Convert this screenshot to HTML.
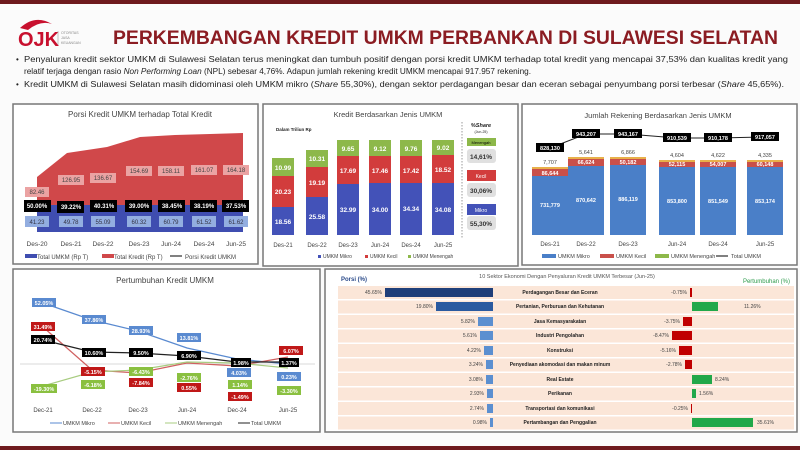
<!DOCTYPE html>
<html><head><meta charset="utf-8"><style>
html,body{margin:0;padding:0;background:#fff;}
svg{display:block;font-family:"Liberation Sans",sans-serif;}
</style></head><body>
<svg width="800" height="450" viewBox="0 0 800 450" xmlns="http://www.w3.org/2000/svg">
<rect width="800" height="450" fill="#fbfbfb"/>
<rect x="0" y="0" width="800" height="4" fill="#6e1a1e"/>
<rect x="0" y="446" width="800" height="4" fill="#6e1a1e"/>
<path d="M20 28 Q35 14 52 24 Q40 20 28 30 Z" fill="#c8102e"/>
<text x="18" y="46" font-size="20" font-weight="bold" fill="#c8102e">OJK</text>
<line x1="58" y1="31" x2="58" y2="45" stroke="#999" stroke-width="0.6"/>
<text x="61" y="34" font-size="3.5" fill="#888">OTORITAS</text>
<text x="61" y="39" font-size="3.5" fill="#888">JASA</text>
<text x="61" y="44" font-size="3.5" fill="#888">KEUANGAN</text>
<text x="113" y="44" font-size="19" font-weight="bold" fill="#8b1c22" textLength="665" lengthAdjust="spacingAndGlyphs">PERKEMBANGAN KREDIT UMKM PERBANKAN DI SULAWESI SELATAN</text>
<g font-size="8" fill="#222">
<text x="16" y="62">•</text>
<text x="24" y="62" textLength="764" lengthAdjust="spacingAndGlyphs">Penyaluran kredit sektor UMKM di Sulawesi Selatan terus meningkat dan tumbuh positif dengan porsi kredit UMKM terhadap total kredit yang mencapai 37,53% dan kualitas kredit yang</text>
<text x="24" y="74" textLength="507" lengthAdjust="spacingAndGlyphs">relatif terjaga dengan rasio <tspan font-style="italic">Non Performing Loan</tspan> (NPL) sebesar 4,76%. Adapun jumlah rekening kredit UMKM mencapai 917.957 rekening.</text>
<text x="16" y="87">•</text>
<text x="24" y="87" textLength="760" lengthAdjust="spacingAndGlyphs">Kredit UMKM di Sulawesi Selatan masih didominasi oleh UMKM mikro (<tspan font-style="italic">Share</tspan> 55,30%), dengan sektor perdagangan besar dan eceran sebagai penyumbang porsi terbesar (<tspan font-style="italic">Share</tspan> 45,65%).</text>
</g>

<rect x="13" y="104" width="245" height="160" fill="#fff" stroke="#777" stroke-width="1.5"/>
<text x="140" y="117" font-size="8" fill="#444" text-anchor="middle">Porsi Kredit UMKM terhadap Total Kredit</text>
<polygon points="37,177 67,153 107,147 140,137 175,135 210,134 243,133 243,232 37,232" fill="#d0484a"/>
<rect x="37" y="205" width="206" height="27" fill="#3f4db0"/>
<g font-size="6" text-anchor="middle" fill="#444">
<rect x="25" y="187" width="24" height="10" fill="#eba3a3"/><text x="37" y="194">82.46</text>
<rect x="58" y="175" width="26" height="10" fill="#eba3a3"/><text x="71" y="182">126.95</text>
<rect x="90" y="173" width="26" height="10" fill="#eba3a3"/><text x="103" y="180">136.67</text>
<rect x="126" y="166" width="26" height="10" fill="#eba3a3"/><text x="139" y="173">154.69</text>
<rect x="158" y="166" width="26" height="10" fill="#eba3a3"/><text x="171" y="173">158.11</text>
<rect x="191" y="165" width="26" height="10" fill="#eba3a3"/><text x="204" y="172">161.07</text>
<rect x="223" y="165" width="26" height="10" fill="#eba3a3"/><text x="236" y="172">164.18</text>
</g>
<g font-size="6" font-weight="bold" text-anchor="middle" fill="#fff">
<rect x="24" y="200" width="27" height="12" fill="#000"/><text x="37" y="208">50.00%</text>
<rect x="57" y="201" width="27" height="12" fill="#000"/><text x="71" y="209">39.22%</text>
<rect x="90" y="200" width="27" height="12" fill="#000"/><text x="104" y="208">40.31%</text>
<rect x="125" y="200" width="27" height="12" fill="#000"/><text x="139" y="208">39.00%</text>
<rect x="158" y="200" width="27" height="12" fill="#000"/><text x="172" y="208">38.45%</text>
<rect x="190" y="200" width="27" height="12" fill="#000"/><text x="204" y="208">38.19%</text>
<rect x="222" y="200" width="27" height="12" fill="#000"/><text x="236" y="208">37.53%</text>
</g>
<g font-size="6" text-anchor="middle" fill="#334">
<rect x="25" y="216" width="24" height="11" fill="#93aee0"/><text x="37" y="224">41.23</text>
<rect x="59" y="216" width="24" height="11" fill="#93aee0"/><text x="71" y="224">49.78</text>
<rect x="91" y="216" width="24" height="11" fill="#93aee0"/><text x="103" y="224">55.09</text>
<rect x="127" y="216" width="24" height="11" fill="#93aee0"/><text x="139" y="224">60.32</text>
<rect x="159" y="216" width="24" height="11" fill="#93aee0"/><text x="171" y="224">60.79</text>
<rect x="192" y="216" width="24" height="11" fill="#93aee0"/><text x="204" y="224">61.52</text>
<rect x="224" y="216" width="24" height="11" fill="#93aee0"/><text x="236" y="224">61.62</text>
</g>
<g font-size="6.5" text-anchor="middle" fill="#444">
<text x="37" y="246">Des-20</text><text x="71" y="246">Des-21</text><text x="103" y="246">Des-22</text><text x="139" y="246">Des-23</text><text x="171" y="246">Jun-24</text><text x="204" y="246">Des-24</text><text x="236" y="246">Jun-25</text>
</g>
<g font-size="6" fill="#444">
<rect x="25" y="254" width="12" height="4" fill="#3f4db0"/><text x="37" y="259">Total UMKM (Rp T)</text>
<rect x="102" y="254" width="12" height="4" fill="#d0484a"/><text x="114" y="259">Total Kredit (Rp T)</text>
<line x1="170" y1="256" x2="182" y2="256" stroke="#000"/><text x="185" y="259">Porsi Kredit UMKM</text>
</g>

<rect x="263" y="104" width="255" height="162" fill="#fff" stroke="#777" stroke-width="1.5"/>
<text x="388" y="117" font-size="7.5" fill="#444" text-anchor="middle">Kredit Berdasarkan Jenis UMKM</text>
<text x="276" y="131" font-size="4.5" font-weight="bold" fill="#222">Dalam Triliun Rp</text>
<g font-size="6.5" font-weight="bold" fill="#fff" text-anchor="middle">
<rect x="272" y="158" width="22" height="18" fill="#8db84a"/><rect x="272" y="176" width="22" height="31" fill="#d23c3c"/><rect x="272" y="207" width="22" height="28" fill="#4352b8"/>
<text x="283" y="170">10.99</text><text x="283" y="194">20.23</text><text x="283" y="224">18.56</text>
<rect x="306" y="150" width="22" height="17" fill="#8db84a"/><rect x="306" y="167" width="22" height="30" fill="#d23c3c"/><rect x="306" y="197" width="22" height="38" fill="#4352b8"/>
<text x="317" y="161">10.31</text><text x="317" y="185">19.19</text><text x="317" y="219">25.58</text>
<rect x="337" y="140" width="22" height="16" fill="#8db84a"/><rect x="337" y="156" width="22" height="28" fill="#d23c3c"/><rect x="337" y="184" width="22" height="51" fill="#4352b8"/>
<text x="348" y="151">9.65</text><text x="348" y="173">17.69</text><text x="348" y="212">32.99</text>
<rect x="369" y="140" width="22" height="16" fill="#8db84a"/><rect x="369" y="156" width="22" height="27" fill="#d23c3c"/><rect x="369" y="183" width="22" height="52" fill="#4352b8"/>
<text x="380" y="151">9.12</text><text x="380" y="173">17.46</text><text x="380" y="212">34.00</text>
<rect x="400" y="140" width="22" height="16" fill="#8db84a"/><rect x="400" y="156" width="22" height="27" fill="#d23c3c"/><rect x="400" y="183" width="22" height="52" fill="#4352b8"/>
<text x="411" y="151">9.76</text><text x="411" y="173">17.42</text><text x="411" y="211">34.34</text>
<rect x="432" y="140" width="22" height="15" fill="#8db84a"/><rect x="432" y="155" width="22" height="28" fill="#d23c3c"/><rect x="432" y="183" width="22" height="52" fill="#4352b8"/>
<text x="443" y="150">9.02</text><text x="443" y="172">18.52</text><text x="443" y="212">34.08</text>
</g>
<line x1="462" y1="122" x2="462" y2="238" stroke="#999" stroke-dasharray="1.5,1.5"/>
<text x="481" y="127" font-size="5.5" font-weight="bold" font-style="italic" fill="#222" text-anchor="middle">%Share</text>
<text x="481" y="133" font-size="3.5" fill="#222" text-anchor="middle">(Jun-25)</text>
<rect x="467" y="138" width="29" height="8" fill="#8db84a"/><text x="481" y="144" font-size="4" fill="#000" text-anchor="middle">Menengah</text>
<rect x="467" y="149" width="29" height="14" rx="3" fill="#e0e0e0"/><text x="481" y="159" font-size="6.5" font-weight="bold" fill="#333" text-anchor="middle">14,61%</text>
<rect x="467" y="170" width="29" height="11" fill="#d23c3c"/><text x="481" y="178" font-size="5" fill="#fff" text-anchor="middle">Kecil</text>
<rect x="467" y="183" width="29" height="14" rx="3" fill="#e0e0e0"/><text x="481" y="193" font-size="6.5" font-weight="bold" fill="#333" text-anchor="middle">30,06%</text>
<rect x="467" y="204" width="29" height="11" fill="#4352b8"/><text x="481" y="212" font-size="5" fill="#fff" text-anchor="middle">Mikro</text>
<rect x="467" y="216" width="29" height="14" rx="3" fill="#e0e0e0"/><text x="481" y="226" font-size="6.5" font-weight="bold" fill="#333" text-anchor="middle">55,30%</text>
<g font-size="6" fill="#444" text-anchor="middle">
<text x="283" y="247">Des-21</text><text x="317" y="247">Des-22</text><text x="348" y="247">Des-23</text><text x="380" y="247">Jun-24</text><text x="411" y="247">Des-24</text><text x="443" y="247">Jun-25</text>
</g>
<g font-size="5" fill="#444">
<rect x="318" y="255" width="3" height="3" fill="#4352b8"/><text x="323" y="258">UMKM Mikro</text>
<rect x="365" y="255" width="3" height="3" fill="#d23c3c"/><text x="370" y="258">UMKM Kecil</text>
<rect x="408" y="255" width="3" height="3" fill="#8db84a"/><text x="413" y="258">UMKM Menengah</text>
</g>

<rect x="522" y="104" width="275" height="161" fill="#fff" stroke="#777" stroke-width="1.5"/>
<text x="658" y="118" font-size="7.5" fill="#444" text-anchor="middle">Jumlah Rekening Berdasarkan Jenis UMKM</text>
<g font-size="5.5" font-weight="bold" fill="#fff" text-anchor="middle">
<rect x="532" y="167" width="36" height="2" fill="#e8b04a"/><rect x="532" y="169" width="36" height="7" fill="#c9504a"/><rect x="532" y="176" width="36" height="59" fill="#4a7fc8"/>
<text x="550" y="175">86,644</text><text x="550" y="207">731,779</text>
<rect x="568" y="157" width="36" height="2" fill="#e8b04a"/><rect x="568" y="159" width="36" height="7" fill="#c9504a"/><rect x="568" y="166" width="36" height="69" fill="#4a7fc8"/>
<text x="586" y="164">66,624</text><text x="586" y="202">870,642</text>
<rect x="610" y="157" width="36" height="2" fill="#e8b04a"/><rect x="610" y="159" width="36" height="6" fill="#c9504a"/><rect x="610" y="165" width="36" height="70" fill="#4a7fc8"/>
<text x="628" y="164">50,182</text><text x="628" y="201">886,119</text>
<rect x="659" y="160" width="36" height="2" fill="#e8b04a"/><rect x="659" y="162" width="36" height="5" fill="#c9504a"/><rect x="659" y="167" width="36" height="68" fill="#4a7fc8"/>
<text x="677" y="166">52,115</text><text x="677" y="203">853,800</text>
<rect x="700" y="160" width="36" height="2" fill="#e8b04a"/><rect x="700" y="162" width="36" height="5" fill="#c9504a"/><rect x="700" y="167" width="36" height="68" fill="#4a7fc8"/>
<text x="718" y="166">54,007</text><text x="718" y="203">851,549</text>
<rect x="747" y="160" width="36" height="2" fill="#e8b04a"/><rect x="747" y="162" width="36" height="5" fill="#c9504a"/><rect x="747" y="167" width="36" height="68" fill="#4a7fc8"/>
<text x="765" y="166">60,148</text><text x="765" y="203">853,174</text>
</g>
<g font-size="5.5" fill="#444" text-anchor="middle">
<text x="550" y="164">7,707</text><text x="586" y="154">5,641</text><text x="628" y="154">6,866</text><text x="677" y="157">4,604</text><text x="718" y="157">4,622</text><text x="765" y="157">4,335</text>
</g>
<polyline points="550,148 586,134 628,134 677,138 718,138 765,137" fill="none" stroke="#222" stroke-width="1"/>
<g font-size="5.5" font-weight="bold" fill="#fff" text-anchor="middle">
<rect x="536" y="143" width="28" height="9" fill="#000"/><text x="550" y="150">828,130</text>
<rect x="572" y="129" width="28" height="9" fill="#000"/><text x="586" y="136">943,207</text>
<rect x="614" y="129" width="28" height="9" fill="#000"/><text x="628" y="136">943,167</text>
<rect x="663" y="133" width="28" height="9" fill="#000"/><text x="677" y="140">910,539</text>
<rect x="704" y="133" width="28" height="9" fill="#000"/><text x="718" y="140">910,178</text>
<rect x="751" y="132" width="28" height="9" fill="#000"/><text x="765" y="139">917,057</text>
</g>
<g font-size="6" fill="#444" text-anchor="middle">
<text x="550" y="246">Des-21</text><text x="586" y="246">Des-22</text><text x="628" y="246">Des-23</text><text x="677" y="246">Jun-24</text><text x="718" y="246">Des-24</text><text x="765" y="246">Jun-25</text>
</g>
<g font-size="5.5" fill="#444">
<rect x="542" y="254" width="14" height="4" fill="#4a7fc8"/><text x="558" y="258">UMKM Mikro</text>
<rect x="600" y="254" width="14" height="4" fill="#c9504a"/><text x="616" y="258">UMKM Kecil</text>
<rect x="655" y="254" width="14" height="4" fill="#8db84a"/><text x="671" y="258">UMKM Menengah</text>
<line x1="716" y1="256" x2="728" y2="256" stroke="#000"/><text x="731" y="258">Total UMKM</text>
</g>

<rect x="13" y="269" width="307" height="163" fill="#fff" stroke="#777" stroke-width="1.5"/>
<text x="165" y="283" font-size="8" fill="#444" text-anchor="middle">Pertumbuhan Kredit UMKM</text>
<line x1="20" y1="364" x2="315" y2="364" stroke="#ccc" stroke-width="0.8"/>
<polyline points="43,303 92,320 138,331 187,348 237,359 288,364" fill="none" stroke="#5a8ad0" stroke-width="1.2"/>
<polyline points="43,327 92,370 138,373 187,363 237,366 288,357" fill="none" stroke="#d06060" stroke-width="1.2"/>
<polyline points="43,386 92,372 138,370 187,362 237,363 288,368" fill="none" stroke="#a8cc80" stroke-width="1.2"/>
<polyline points="43,340 92,352 138,353 187,356 237,362 288,362" fill="none" stroke="#222" stroke-width="1.2"/>
<g font-size="5.5" font-weight="bold" fill="#fff" text-anchor="middle">
<rect x="32" y="298" width="24" height="9" fill="#5a8ad0"/><text x="44" y="305">52.05%</text>
<rect x="82" y="315" width="24" height="9" fill="#5a8ad0"/><text x="94" y="322">37.86%</text>
<rect x="129" y="326" width="24" height="9" fill="#5a8ad0"/><text x="141" y="333">28.93%</text>
<rect x="177" y="333" width="24" height="9" fill="#5a8ad0"/><text x="189" y="340">13.81%</text>
<rect x="227" y="368" width="24" height="9" fill="#5a8ad0"/><text x="239" y="375">4.03%</text>
<rect x="277" y="372" width="24" height="9" fill="#5a8ad0"/><text x="289" y="379">0.23%</text>
<rect x="31" y="322" width="24" height="9" fill="#c01818"/><text x="43" y="329">31.49%</text>
<rect x="81" y="367" width="24" height="9" fill="#c01818"/><text x="93" y="374">-5.15%</text>
<rect x="129" y="378" width="24" height="9" fill="#c01818"/><text x="141" y="385">-7.84%</text>
<rect x="177" y="383" width="24" height="9" fill="#c01818"/><text x="189" y="390">0.55%</text>
<rect x="228" y="392" width="24" height="9" fill="#c01818"/><text x="240" y="399">-1.49%</text>
<rect x="279" y="346" width="24" height="9" fill="#c01818"/><text x="291" y="353">6.07%</text>
<rect x="31" y="384" width="26" height="9" fill="#8ac040"/><text x="44" y="391">-19.30%</text>
<rect x="81" y="380" width="24" height="9" fill="#8ac040"/><text x="93" y="387">-6.18%</text>
<rect x="129" y="367" width="24" height="9" fill="#8ac040"/><text x="141" y="374">-6.43%</text>
<rect x="177" y="373" width="24" height="9" fill="#8ac040"/><text x="189" y="380">-2.76%</text>
<rect x="228" y="380" width="24" height="9" fill="#8ac040"/><text x="240" y="387">1.14%</text>
<rect x="277" y="386" width="24" height="9" fill="#8ac040"/><text x="289" y="393">-3.30%</text>
<rect x="31" y="335" width="24" height="9" fill="#000"/><text x="43" y="342">20.74%</text>
<rect x="82" y="348" width="24" height="9" fill="#000"/><text x="94" y="355">10.60%</text>
<rect x="129" y="348" width="24" height="9" fill="#000"/><text x="141" y="355">9.50%</text>
<rect x="177" y="351" width="24" height="9" fill="#000"/><text x="189" y="358">6.90%</text>
<rect x="231" y="358" width="20" height="9" fill="#000"/><text x="241" y="365">1.98%</text>
<rect x="279" y="358" width="20" height="9" fill="#000"/><text x="289" y="365">1.37%</text>
</g>
<g font-size="6" fill="#444" text-anchor="middle">
<text x="43" y="412">Dec-21</text><text x="92" y="412">Dec-22</text><text x="138" y="412">Dec-23</text><text x="187" y="412">Jun-24</text><text x="237" y="412">Dec-24</text><text x="288" y="412">Jun-25</text>
</g>
<g font-size="5.5" fill="#444">
<line x1="50" y1="423" x2="62" y2="423" stroke="#5a8ad0"/><text x="63" y="425">UMKM Mikro</text>
<line x1="108" y1="423" x2="120" y2="423" stroke="#d06060"/><text x="121" y="425">UMKM Kecil</text>
<line x1="165" y1="423" x2="177" y2="423" stroke="#a8cc80"/><text x="178" y="425">UMKM Menengah</text>
<line x1="238" y1="423" x2="250" y2="423" stroke="#222"/><text x="251" y="425">Total UMKM</text>
</g>

<rect x="325" y="269" width="472" height="163" fill="#fff" stroke="#777" stroke-width="1.5"/>
<text x="341" y="281" font-size="6" font-weight="bold" fill="#2a4a8a">Porsi (%)</text>
<text x="567" y="278" font-size="5.5" fill="#555" text-anchor="middle">10 Sektor Ekonomi Dengan Penyaluran Kredit UMKM Terbesar (Jun-25)</text>
<text x="790" y="283" font-size="6" fill="#2a9a4a" text-anchor="end">Pertumbuhan (%)</text>
<g fill="#fbe6d8">
<rect x="338" y="286" width="456" height="13"/><rect x="338" y="300.5" width="456" height="13"/><rect x="338" y="315" width="456" height="13"/><rect x="338" y="329.5" width="456" height="13"/><rect x="338" y="344" width="456" height="13"/><rect x="338" y="358.5" width="456" height="13"/><rect x="338" y="373" width="456" height="13"/><rect x="338" y="387.5" width="456" height="13"/><rect x="338" y="402" width="456" height="13"/><rect x="338" y="416.5" width="456" height="13"/>
</g>
<rect x="385" y="288" width="108" height="9" fill="#1f3f7a"/>
<rect x="436" y="302" width="57" height="9" fill="#2a5aa0"/>
<rect x="478" y="317" width="15" height="9" fill="#5b8fd0"/>
<rect x="480" y="331" width="13" height="9" fill="#5b8fd0"/>
<rect x="484" y="346" width="9" height="9" fill="#5b8fd0"/>
<rect x="486" y="360" width="7" height="9" fill="#5b8fd0"/>
<rect x="486" y="375" width="7" height="9" fill="#5b8fd0"/>
<rect x="487" y="389" width="6" height="9" fill="#5b8fd0"/>
<rect x="487" y="404" width="6" height="9" fill="#5b8fd0"/>
<rect x="490" y="418" width="3" height="9" fill="#5b8fd0"/>
<g font-size="5" fill="#444" text-anchor="end">
<text x="382" y="294">45.65%</text><text x="433" y="308">19.80%</text><text x="475" y="323">5.82%</text><text x="477" y="337">5.61%</text><text x="481" y="352">4.22%</text><text x="483" y="366">3.24%</text><text x="483" y="381">3.08%</text><text x="484" y="395">2.93%</text><text x="484" y="410">2.74%</text><text x="487" y="424">0.98%</text>
</g>
<g font-size="5" font-weight="bold" fill="#222" text-anchor="middle">
<text x="560" y="294">Perdagangan Besar dan Eceran</text>
<text x="560" y="308">Pertanian, Perburuan dan Kehutanan</text>
<text x="560" y="323">Jasa Kemasyarakatan</text>
<text x="560" y="337">Industri Pengolahan</text>
<text x="560" y="352">Konstruksi</text>
<text x="560" y="366">Penyediaan akomodasi dan makan minum</text>
<text x="560" y="381">Real Estate</text>
<text x="560" y="395">Perikanan</text>
<text x="560" y="410">Transportasi dan komunikasi</text>
<text x="560" y="424">Pertambangan dan Penggalian</text>
</g>
<rect x="690" y="288" width="2" height="9" fill="#c00000"/>
<rect x="692" y="302" width="26" height="9" fill="#21a84a"/>
<rect x="683" y="317" width="9" height="9" fill="#c00000"/>
<rect x="672" y="331" width="20" height="9" fill="#c00000"/>
<rect x="679" y="346" width="13" height="9" fill="#c00000"/>
<rect x="685" y="360" width="7" height="9" fill="#c00000"/>
<rect x="692" y="375" width="20" height="9" fill="#21a84a"/>
<rect x="692" y="389" width="4" height="9" fill="#21a84a"/>
<rect x="691" y="404" width="1" height="9" fill="#c00000"/>
<rect x="692" y="418" width="61" height="9" fill="#21a84a"/>
<g font-size="5" fill="#444">
<text x="687" y="294" text-anchor="end">-0.75%</text>
<text x="744" y="308">11.26%</text>
<text x="680" y="323" text-anchor="end">-3.75%</text>
<text x="669" y="337" text-anchor="end">-8.47%</text>
<text x="676" y="352" text-anchor="end">-5.16%</text>
<text x="682" y="366" text-anchor="end">-2.78%</text>
<text x="715" y="381">8.24%</text>
<text x="699" y="395">1.56%</text>
<text x="688" y="410" text-anchor="end">-0.25%</text>
<text x="757" y="424">35.61%</text>
</g>
</svg>
</body></html>
